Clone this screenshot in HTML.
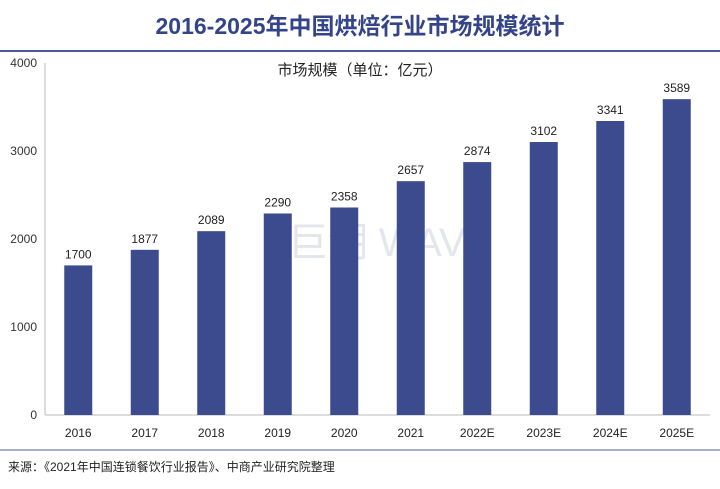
<!DOCTYPE html>
<html><head><meta charset="utf-8"><style>
body{margin:0;background:#fff;width:720px;height:484px;overflow:hidden;font-family:"Liberation Sans","Noto Sans CJK SC",sans-serif}
</style></head><body>
<svg width="720" height="484" id="chart">
<text x="360" y="34" text-anchor="middle" font-size="23" font-weight="bold" fill="#34448a" font-family="Liberation Sans, Noto Sans CJK SC, sans-serif">2016-2025年中国烘焙行业市场规模统计</text>
<line x1="0" y1="51" x2="720" y2="51" stroke="#4a5a9a" stroke-width="2"/>
<text x="360" y="75" text-anchor="middle" font-size="15" fill="#222" font-family="Liberation Sans, Noto Sans CJK SC, sans-serif">市场规模（单位：亿元）</text>
<text x="390" y="256" text-anchor="middle" font-size="40" fill="#e4e6ee" font-family="Liberation Sans, Noto Sans CJK SC, sans-serif">巨潮 WAVE</text>
<line x1="45" y1="63" x2="45" y2="415" stroke="#d0d0d0" stroke-width="1.5"/>
<line x1="45" y1="415" x2="710" y2="415" stroke="#d0d0d0" stroke-width="1.5"/>
<g id="bars"></g>
<line x1="0" y1="450" x2="720" y2="450" stroke="#8a94bb" stroke-width="1.5"/>
<text x="8" y="471" font-size="12" fill="#222" font-family="Liberation Sans, Noto Sans CJK SC, sans-serif">来源：《2021年中国连锁餐饮行业报告》、中商产业研究院整理</text>
</svg>
<script>
const categories=["2016","2017","2018","2019","2020","2021","2022E","2023E","2024E","2025E"];
const values=[1700,1877,2089,2290,2358,2657,2874,3102,3341,3589];
const yTicks=[0,1000,2000,3000,4000];
const NS="http://www.w3.org/2000/svg";
const x0=45,x1=710,yBase=415,yTop=63,yMax=4000;
const band=(x1-x0)/categories.length;
const y=v=>yBase-(v/yMax)*(yBase-yTop);
const xc=i=>x0+band*(i+0.5);
const g=document.getElementById('bars');
function mk(tag,attrs,txt){const e=document.createElementNS(NS,tag);for(const k in attrs)e.setAttribute(k,attrs[k]);if(txt!=null)e.textContent=txt;g.appendChild(e);return e;}
yTicks.forEach(t=>{
 const e=mk('text',{x:37,y:y(t)+4,'text-anchor':'end','font-size':12,fill:'#333'},t);
 
 
});
categories.forEach((c,i)=>{
 const v=values[i];
 const r=mk('rect',{x:xc(i)-14,y:y(v),width:28,height:yBase-y(v),fill:'#3c4b8e'});
 
 
 const l=mk('text',{x:xc(i),y:y(v)-7,'text-anchor':'middle','font-size':12,fill:'#222'},v);
 
 
 const xl=mk('text',{x:xc(i),y:437,'text-anchor':'middle','font-size':12,fill:'#222'},c);
 
 
});
</script>
</body></html>
